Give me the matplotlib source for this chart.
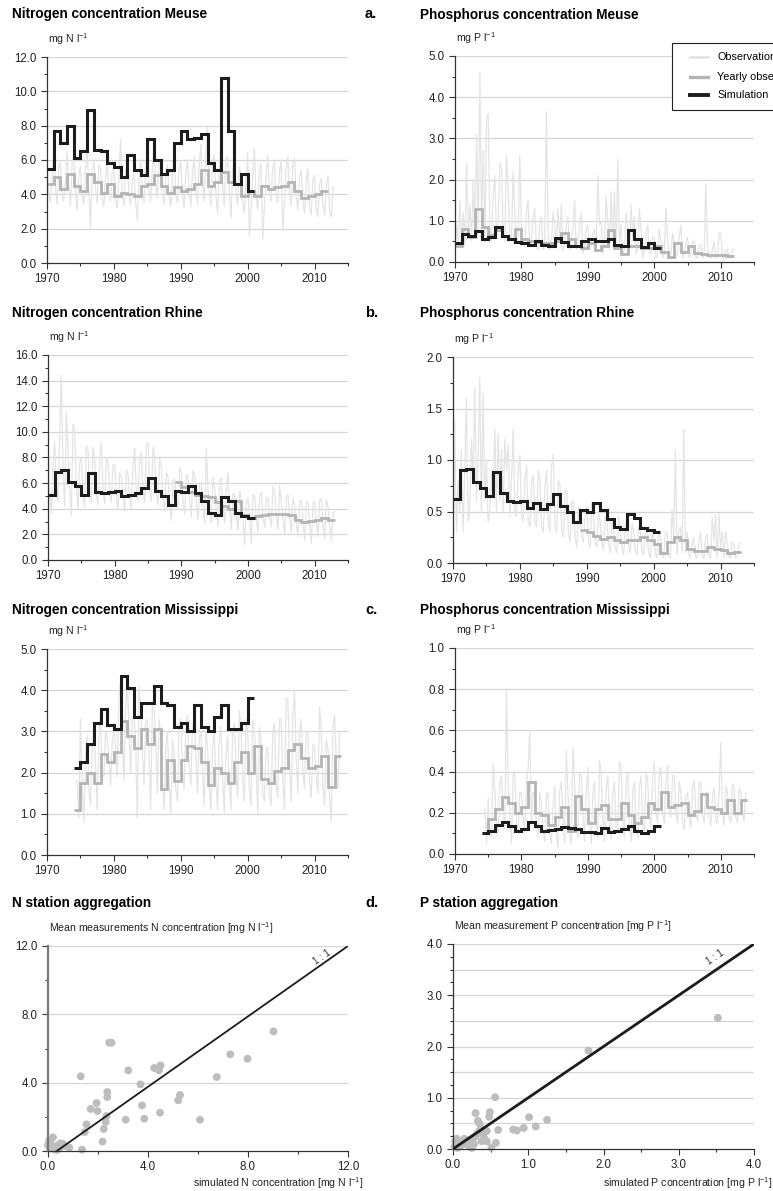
import numpy as np
import matplotlib
matplotlib.use("Agg")
import matplotlib.pyplot as plt
from matplotlib.lines import Line2D
from matplotlib.patches import Rectangle
from matplotlib.ticker import MultipleLocator, FormatStrFormatter

plt.rcParams["font.family"] = ["Liberation Sans", "DejaVu Sans"]
plt.rcParams["mathtext.default"] = "regular"

W, H = 773, 1191

OBS_C = "#e4e4e4"
YEAR_C = "#b4b4b4"
SIM_C = "#1c1c1c"
GRID_C = "#d6d6d6"
SPINE_C = "#333333"

# ---------------- Meuse ----------------
meuse_n_sim_start = 1970
meuse_n_sim = [5.5, 7.7, 7.0, 8.0, 6.1, 6.5, 8.9, 6.6, 6.5, 5.8, 5.6, 5.0, 6.3, 5.4, 5.1, 7.2,
               6.0, 5.2, 5.4, 7.0, 7.7, 7.2, 7.3, 7.5, 5.8, 5.4, 10.8, 7.7, 4.6, 5.2, 4.2]
meuse_n_year_start = 1970
meuse_n_year = [4.6, 5.0, 4.3, 5.2, 4.5, 4.2, 5.2, 4.7, 4.1, 4.6, 3.9, 4.1, 4.0, 3.9, 4.5, 4.6,
                5.1, 4.5, 4.1, 4.4, 4.2, 4.3, 4.6, 5.4, 4.5, 4.7, 5.3, 4.7, 4.6, 3.9, 4.2, 3.9,
                4.5, 4.3, 4.4, 4.5, 4.7, 4.2, 3.8, 3.9, 4.0, 4.2]
meuse_n_obs_start = 1970
meuse_n_obs = [5.8, 4.2, 3.5, 5.0, 6.4, 4.5, 3.4, 5.6, 5.9, 4.0, 3.6, 4.8, 6.5, 4.6, 3.3, 5.9,
               6.2, 4.1, 3.1, 5.2, 5.6, 3.9, 3.4, 5.5, 6.6, 4.3, 2.0, 5.1, 6.0, 4.4, 3.5, 5.7,
               5.5, 3.8, 3.3, 4.9, 6.1, 4.2, 3.6, 5.3, 5.4, 3.7, 3.2, 5.0, 7.2, 4.0, 3.3, 5.4,
               5.8, 3.9, 3.4, 4.8, 5.2, 3.6, 2.5, 4.7, 6.0, 4.1, 3.5, 5.6, 6.4, 4.3, 3.6, 5.5,
               6.8, 4.6, 3.8, 5.9, 6.1, 4.2, 3.4, 5.2, 5.7, 3.9, 3.3, 5.0, 6.3, 4.0, 3.5, 5.4,
               5.9, 4.1, 3.2, 5.2, 6.0, 4.2, 3.3, 5.3, 6.2, 4.3, 3.4, 5.7, 6.9, 4.8, 3.6, 6.4,
               7.9, 4.4, 3.3, 5.9, 6.3, 4.0, 2.9, 5.5, 7.0, 4.6, 3.3, 6.1, 6.2, 4.3, 2.6, 5.4,
               6.0, 4.2, 3.4, 5.6, 5.2, 3.6, 2.9, 4.8, 6.4, 1.6, 3.0, 5.0, 6.7, 3.9, 3.1, 5.4,
               5.8, 1.4, 3.3, 5.1, 6.3, 4.2, 3.6, 5.6, 5.9, 4.0, 3.5, 5.3, 6.0, 1.9, 3.4, 5.5,
               6.2, 4.3, 3.3, 5.8, 6.1, 3.9, 3.1, 5.0, 5.4, 3.6, 2.9, 4.7, 5.5, 3.3, 2.8, 4.9,
               5.1, 3.2, 2.7, 4.6, 4.9, 3.4, 2.8, 4.5, 5.1, 3.0, 2.7, 4.4, 4.4]

meuse_p_sim_start = 1970
meuse_p_sim = [0.45, 0.68, 0.62, 0.75, 0.55, 0.6, 0.85, 0.62, 0.55, 0.48, 0.45, 0.42, 0.5, 0.42,
               0.38, 0.58, 0.48, 0.4, 0.38, 0.5, 0.55, 0.52, 0.52, 0.55, 0.42, 0.38, 0.78, 0.55,
               0.37, 0.45, 0.35]
meuse_p_year_start = 1970
meuse_p_year = [0.38, 0.8, 0.6, 1.28, 0.85, 0.65, 0.78, 0.62, 0.55, 0.8, 0.55, 0.5, 0.48, 0.45,
                0.45, 0.5, 0.7, 0.55, 0.4, 0.35, 0.45, 0.3, 0.38, 0.78, 0.35, 0.2, 0.4, 0.38,
                0.35, 0.35, 0.4, 0.25, 0.12, 0.45, 0.25, 0.4, 0.22, 0.2, 0.16, 0.17, 0.18, 0.15]
meuse_p_obs_start = 1970
meuse_p_obs = [0.3, 0.9, 0.4, 1.5, 0.5, 1.2, 0.4, 2.4, 0.6, 1.4, 0.5, 2.0, 0.7, 3.1, 0.6, 4.6,
               0.8, 2.7, 0.5, 3.5, 3.6, 0.9, 0.5, 1.6, 2.1, 0.6, 1.0, 2.4, 2.3, 0.7, 0.5, 2.6,
               1.8, 0.6, 0.5, 2.2, 1.2, 0.5, 0.6, 2.6, 0.9, 0.4, 0.5, 1.2, 1.5, 0.4, 0.5, 1.0,
               1.3, 0.4, 0.3, 0.9, 1.1, 0.3, 0.4, 3.65, 0.8, 0.3, 0.4, 1.2, 0.9, 0.4, 1.3, 0.5,
               1.4, 0.3, 0.4, 0.9, 1.1, 0.3, 0.6, 0.8, 1.5, 0.3, 0.4, 0.9, 1.2, 0.2, 0.4, 0.8,
               0.9, 0.3, 0.4, 0.7, 0.8, 0.3, 2.1, 0.9, 1.0, 0.2, 0.4, 1.6, 1.0, 0.3, 1.7, 0.5,
               1.7, 0.3, 2.5, 0.4, 0.9, 0.2, 0.3, 1.2, 0.8, 0.2, 1.4, 0.6, 1.1, 0.2, 0.3, 1.3,
               0.8, 0.1, 0.3, 0.7, 0.9, 0.2, 0.2, 0.6, 0.6, 0.1, 0.2, 0.8, 0.5, 0.1, 0.2, 1.3,
               0.6, 0.1, 0.2, 0.7, 0.5, 0.1, 0.2, 0.6, 0.9, 0.1, 0.2, 0.5, 0.6, 0.1, 0.2, 0.5,
               0.5, 0.1, 0.1, 0.4, 0.4, 0.1, 0.2, 1.9, 0.4, 0.1, 0.1, 0.3, 0.5, 0.1, 0.1, 0.7,
               0.7, 0.1, 0.1, 0.3, 0.3, 0.1, 0.1, 0.3, 0.3]

# ---------------- Rhine ----------------
rhine_n_sim_start = 1970
rhine_n_sim = [5.1, 6.9, 7.0, 6.1, 5.8, 5.1, 6.8, 5.3, 5.2, 5.3, 5.35, 5.0, 5.1, 5.2, 5.6, 6.4,
               5.4, 5.0, 4.3, 5.4, 5.3, 5.8, 5.2, 4.6, 3.7, 3.5, 4.9, 4.6, 3.7, 3.4, 3.3]
rhine_n_year_start = 1989
rhine_n_year = [6.1, 5.7, 5.3, 5.1, 5.0, 4.9, 4.5, 4.2, 4.0, 4.6, 3.5, 3.3, 3.4, 3.5, 3.6, 3.6,
                3.6, 3.5, 3.1, 3.0, 3.05, 3.1, 3.3, 3.1]
rhine_n_obs_start = 1970
rhine_n_obs = [9.5, 5.2, 3.6, 7.5, 9.2, 6.0, 4.5, 9.8, 14.4, 7.0, 4.2, 11.6, 8.5, 5.5, 3.5, 10.6,
               10.2, 5.8, 4.0, 7.6, 8.0, 5.0, 4.1, 8.9, 8.6, 5.4, 4.5, 8.8, 8.0, 5.1, 4.3, 7.6,
               9.2, 5.6, 4.4, 8.0, 7.8, 5.2, 4.5, 7.4, 7.5, 5.0, 3.9, 6.8, 6.5, 4.8, 3.8, 7.0,
               6.7, 4.9, 4.0, 7.1, 8.7, 5.3, 4.6, 7.8, 8.4, 5.5, 4.5, 9.0, 9.2, 5.6, 4.6, 8.8,
               8.1, 5.2, 4.3, 7.9, 7.3, 4.8, 3.8, 6.9, 6.5, 4.4, 3.1, 6.2, 6.3, 4.7, 3.9, 7.2,
               6.9, 4.6, 3.6, 6.7, 6.5, 4.8, 3.4, 7.0, 6.6, 4.5, 3.2, 6.0, 5.9, 4.1, 2.8, 8.7,
               5.5, 3.9, 2.9, 6.5, 5.6, 3.8, 2.6, 6.2, 6.4, 4.1, 2.9, 5.6, 6.8, 3.9, 2.4, 5.2,
               5.1, 3.5, 2.3, 5.4, 4.6, 3.2, 1.2, 4.4, 4.9, 3.0, 1.3, 5.1, 5.0, 3.2, 2.2, 4.9,
               5.3, 3.4, 2.5, 4.7, 4.9, 3.3, 2.6, 5.8, 5.3, 3.4, 2.4, 5.8, 4.5, 3.2, 2.0, 5.0,
               5.1, 3.3, 2.1, 4.8, 4.3, 2.9, 1.8, 4.5, 4.7, 3.0, 1.5, 4.6, 4.5, 2.8, 1.3, 4.4,
               4.6, 2.9, 1.8, 4.7, 4.8, 2.8, 1.6, 4.7, 4.2, 2.6, 1.5, 3.7, 3.8]

rhine_p_sim_start = 1970
rhine_p_sim = [0.62, 0.9, 0.91, 0.79, 0.73, 0.65, 0.88, 0.68, 0.6, 0.59, 0.6, 0.53, 0.58, 0.52,
               0.57, 0.67, 0.55, 0.5, 0.4, 0.51, 0.5, 0.58, 0.51, 0.43, 0.35, 0.33, 0.48, 0.44,
               0.34, 0.32, 0.3]
rhine_p_year_start = 1989
rhine_p_year = [0.32, 0.3, 0.26, 0.23, 0.25, 0.22, 0.2, 0.22, 0.22, 0.25, 0.22, 0.18, 0.1, 0.2,
                0.25, 0.22, 0.14, 0.12, 0.12, 0.16, 0.14, 0.13, 0.1, 0.11]
rhine_p_obs_start = 1970
rhine_p_obs = [0.2, 1.4, 0.3, 0.8, 0.5, 1.1, 0.3, 0.9, 1.6, 0.4, 0.5, 1.2, 0.8, 1.7, 0.6, 1.0,
               1.8, 0.5, 1.65, 0.6, 1.0, 0.4, 0.5, 0.9, 0.7, 1.3, 0.5, 1.25, 0.6, 1.1, 0.5, 1.2,
               0.9, 1.15, 0.45, 0.8, 1.3, 0.5, 0.45, 0.9, 1.05, 0.45, 0.4, 0.8, 0.95, 0.4, 0.35, 0.8,
               0.85, 0.4, 0.35, 0.9, 0.8, 0.35, 0.3, 0.75, 0.9, 0.4, 0.3, 0.95, 1.05, 0.35, 0.3, 0.8,
               0.75, 0.3, 0.25, 0.7, 0.7, 0.3, 0.2, 0.6, 0.6, 0.25, 0.15, 0.55, 0.5, 0.25, 0.2, 0.5,
               0.55, 0.2, 0.15, 0.6, 0.45, 0.2, 0.15, 0.5, 0.4, 0.2, 0.12, 0.45, 0.45, 0.18, 0.1, 0.4,
               0.35, 0.15, 0.1, 0.45, 0.3, 0.15, 0.08, 0.35, 0.4, 0.15, 0.1, 0.38, 0.3, 0.12, 0.08, 0.35,
               0.32, 0.12, 0.08, 0.3, 0.3, 0.1, 0.05, 0.3, 0.25, 0.1, 0.05, 0.28, 0.25, 0.08, 0.05, 0.3,
               0.3, 0.1, 0.05, 0.52, 0.25, 1.1, 0.08, 0.3, 0.35, 0.1, 1.3, 0.1, 0.3, 0.08, 0.05, 0.2,
               0.25, 0.06, 0.05, 0.2, 0.3, 0.08, 0.04, 0.25, 0.28, 0.07, 0.05, 0.45, 0.2, 0.47, 0.05, 0.48,
               0.15, 0.3, 0.05, 0.3, 0.2, 0.06, 0.05, 0.2, 0.18, 0.05, 0.06, 0.18, 0.2]

# ---------------- Mississippi ----------------
miss_n_sim_start = 1974
miss_n_sim = [2.1, 2.25, 2.7, 3.2, 3.55, 3.15, 3.05, 4.35, 4.05, 3.35, 3.7, 3.7, 4.1, 3.7, 3.65,
              3.1, 3.2, 3.0, 3.65, 3.1, 3.0, 3.35, 3.65, 3.05, 3.05, 3.2, 3.8]
miss_n_year_start = 1974
miss_n_year = [1.1, 1.75, 2.0, 1.75, 2.45, 2.25, 2.5, 3.25, 2.9, 2.6, 3.05, 2.7, 3.05, 1.6, 2.3,
               1.8, 2.3, 2.65, 2.6, 2.25, 1.7, 2.1, 2.0, 1.75, 2.25, 2.5, 2.0, 2.65, 1.85, 1.75,
               2.05, 2.1, 2.55, 2.7, 2.35, 2.1, 2.15, 2.4, 1.65, 2.4]
miss_n_obs_start = 1974.5
miss_n_obs = [1.8, 0.9, 3.3, 1.7, 0.8, 2.4, 2.9, 1.6, 1.2, 2.6, 3.1, 2.2, 1.1, 2.8, 3.5, 2.0,
              1.9, 3.0, 2.8, 2.4, 1.7, 2.7, 3.2, 2.6, 1.9, 3.9, 4.2, 3.0, 1.8, 3.6, 4.2, 3.1,
              2.0, 3.3, 3.4, 2.7, 0.9, 4.1, 3.5, 2.5, 1.7, 3.2, 3.3, 2.6, 1.1, 3.6, 3.6, 2.8,
              1.5, 3.3, 2.9, 1.8, 1.1, 2.6, 3.0, 1.8, 1.0, 2.8, 2.5, 1.6, 1.3, 3.2, 3.3, 2.1,
              1.6, 3.0, 3.4, 2.2, 1.7, 3.1, 3.3, 2.4, 1.5, 2.8, 3.0, 2.0, 1.2, 3.0, 2.6, 1.6,
              1.1, 2.6, 3.0, 1.8, 1.1, 2.8, 3.1, 1.9, 1.0, 2.4, 2.9, 1.7, 1.1, 3.0, 3.2, 2.1,
              1.4, 3.5, 3.1, 1.9, 1.3, 3.3, 3.0, 1.6, 1.2, 3.3, 3.0, 2.3, 1.0, 3.1, 2.8, 1.5,
              1.3, 2.6, 2.6, 1.5, 1.2, 3.0, 3.2, 1.7, 1.4, 3.3, 3.3, 1.8, 1.1, 3.8, 3.8, 2.2,
              1.3, 3.3, 4.0, 2.4, 1.5, 3.0, 3.3, 2.0, 1.6, 3.0, 3.0, 1.8, 1.4, 2.7, 2.6, 1.9,
              1.5, 3.6, 3.0, 1.7, 1.2, 2.8, 2.6, 1.4, 0.8, 3.1, 3.4, 2.2, 1.6, 3.0]

miss_p_sim_start = 1974
miss_p_sim = [0.1, 0.11, 0.14, 0.155, 0.135, 0.11, 0.12, 0.155, 0.135, 0.11, 0.115, 0.12, 0.13,
              0.125, 0.12, 0.105, 0.105, 0.1, 0.125, 0.105, 0.11, 0.12, 0.135, 0.11, 0.1, 0.11,
              0.135]
miss_p_year_start = 1974
miss_p_year = [0.1, 0.17, 0.22, 0.275, 0.25, 0.2, 0.23, 0.35, 0.2, 0.19, 0.14, 0.18, 0.23, 0.11,
               0.28, 0.22, 0.15, 0.22, 0.24, 0.17, 0.17, 0.25, 0.19, 0.15, 0.18, 0.25, 0.22, 0.3,
               0.23, 0.24, 0.25, 0.19, 0.21, 0.29, 0.23, 0.22, 0.2, 0.26, 0.2, 0.26]
miss_p_obs_start = 1974.5
miss_p_obs = [0.22, 0.05, 0.27, 0.1, 0.08, 0.44, 0.3, 0.15, 0.1, 0.35, 0.38, 0.2, 0.12, 0.8,
              0.35, 0.2, 0.05, 0.38, 0.4, 0.15, 0.1, 0.3, 0.3, 0.18, 0.1, 0.35, 0.42, 0.6, 0.15, 0.3,
              0.28, 0.15, 0.08, 0.3, 0.25, 0.12, 0.06, 0.28, 0.3, 0.1, 0.05, 0.22, 0.33, 0.1, 0.03, 0.3,
              0.35, 0.2, 0.05, 0.5, 0.3, 0.1, 0.05, 0.52, 0.35, 0.15, 0.08, 0.4, 0.38, 0.2, 0.06, 0.3,
              0.42, 0.12, 0.05, 0.3, 0.35, 0.15, 0.08, 0.45, 0.4, 0.18, 0.06, 0.32, 0.38, 0.15, 0.07, 0.3,
              0.35, 0.12, 0.1, 0.45, 0.42, 0.2, 0.08, 0.35, 0.4, 0.15, 0.06, 0.3, 0.35, 0.12, 0.08, 0.32,
              0.38, 0.15, 0.1, 0.4, 0.35, 0.18, 0.12, 0.38, 0.45, 0.2, 0.15, 0.4, 0.42, 0.2, 0.15, 0.35,
              0.43, 0.2, 0.18, 0.38, 0.38, 0.2, 0.15, 0.35, 0.3, 0.15, 0.12, 0.28, 0.3, 0.17, 0.13, 0.32,
              0.36, 0.2, 0.16, 0.35, 0.34, 0.19, 0.15, 0.3, 0.3, 0.18, 0.14, 0.28, 0.32, 0.16, 0.15, 0.3,
              0.54, 0.2, 0.14, 0.33, 0.3, 0.18, 0.15, 0.34, 0.32, 0.18, 0.15, 0.32, 0.3, 0.2, 0.16, 0.3]

# ---------------- station aggregation ----------------
n_station_sim = [9.02, 7.29, 7.98, 6.75, 6.08, 5.21, 5.28, 4.48, 4.5, 4.44, 4.25, 3.85, 3.76, 3.7,
                 3.21, 3.11, 2.54, 2.45, 2.37, 2.37, 2.34, 2.31, 2.23, 2.18, 1.98, 1.94, 1.71, 1.54,
                 1.47, 1.31, 1.36, 0.0, 0.1, 0.2, 0.15, 0.3, 0.4, 0.5, 0.55, 0.6, 0.25, 0.85, 0.05,
                 0.45, 0.35, 0.7, 0.08]
n_station_obs = [7.0, 5.66, 5.4, 4.33, 1.83, 2.97, 3.28, 2.24, 5.01, 4.72, 4.86, 1.89, 2.67, 3.9,
                 4.72, 1.83, 6.34, 6.34, 3.45, 3.16, 2.05, 1.7, 1.29, 0.55, 2.34, 2.81, 2.46, 1.56,
                 1.11, 4.37, 0.08, 0.35, 0.5, 0.8, 0.25, 0.2, 0.35, 0.45, 0.3, 0.4, 0.1, 0.2, 0.6,
                 0.15, 0.05, 0.3, 0.15]
n_one_to_one_x = [0.35, 12.0]
n_one_to_one_y = [0.0, 12.0]

p_station_sim = [3.52, 1.8, 1.25, 1.1, 1.01, 0.94, 0.85, 0.8, 0.6, 0.56, 0.57, 0.51, 0.49, 0.48,
                 0.45, 0.45, 0.35, 0.33, 0.3, 0.4, 0.38, 0.42, 0.3, 0.25, 0.28, 0.2, 0.22, 0.18,
                 0.15, 0.12, 0.1, 0.05, 0.03, 0.02, 0.06, 0.25, 0.35, 0.38, 0.05, 0.15, 0.32, 0.27]
p_station_obs = [2.56, 1.92, 0.57, 0.44, 0.62, 0.41, 0.36, 0.38, 0.37, 1.01, 0.12, 0.03, 0.72,
                 0.63, 0.35, 0.15, 0.5, 0.55, 0.7, 0.28, 0.15, 0.2, 0.25, 0.2, 0.1, 0.15, 0.05,
                 0.18, 0.1, 0.08, 0.12, 0.2, 0.15, 0.05, 0.02, 0.02, 0.35, 0.4, 0.1, 0.2, 0.3, 0.22]
p_one_to_one_x = [0.0, 4.0]
p_one_to_one_y = [0.0, 4.0]

legend_labels = ["Observations", "Yearly observations", "Simulation"]


fig = plt.figure(figsize=(W / 100, H / 100), dpi=100)


def fx(px):
    return px / W


def fy(py):
    return 1 - py / H


def add_axes(left, top, right, bottom):
    return fig.add_axes([fx(left), fy(bottom), (right - left) / W, (bottom - top) / H])


def style_axes(ax, ymax, ymajor, yminor, grid_step=None):
    for side in ("top", "right"):
        ax.spines[side].set_visible(False)
    for side in ("left", "bottom"):
        ax.spines[side].set_color(SPINE_C)
        ax.spines[side].set_linewidth(0.9)
    ax.set_ylim(0, ymax)
    ax.yaxis.set_major_locator(MultipleLocator(ymajor))
    ax.yaxis.set_minor_locator(MultipleLocator(yminor))
    ax.yaxis.set_major_formatter(FormatStrFormatter("%.1f"))
    ax.tick_params(which="both", direction="out", width=0.8, colors=SPINE_C,
                   labelsize=8.3, labelcolor="#222222")
    ax.tick_params(which="major", length=4)
    ax.tick_params(which="minor", length=2.5)
    step = grid_step or ymajor
    for g in np.arange(step, ymax + step / 2, step):
        ax.axhline(g, color=GRID_C, lw=0.9, zorder=0)


def top_label(ax, text):
    ax.annotate(text, xy=(0, 1), xycoords="axes fraction", xytext=(1, 7),
                textcoords="offset points", ha="left", va="bottom", fontsize=7.6,
                color="#222222")


def time_panel(box, obs_start, obs, year_start, year, sim_start, sim, ymax, ymajor, yminor, unit):
    ax = add_axes(*box)
    style_axes(ax, ymax, ymajor, yminor)
    ax.set_xlim(1970, 2015)
    ax.xaxis.set_major_locator(MultipleLocator(10))
    ax.xaxis.set_minor_locator(MultipleLocator(5))
    ax.plot(obs_start + np.arange(len(obs)) / 4, obs, color=OBS_C, lw=0.9, zorder=1)
    ax.stairs(year, year_start + np.arange(len(year) + 1), baseline=None,
              color=YEAR_C, lw=2.0, zorder=2)
    ax.stairs(sim, sim_start + np.arange(len(sim) + 1), baseline=None,
              color=SIM_C, lw=2.2, zorder=3)
    top_label(ax, unit)
    return ax


def title(x, y, text, letter=None, letter_x=None):
    fig.text(fx(x), fy(y), text, fontsize=9.8, fontweight="bold", va="center", ha="left")
    if letter:
        fig.text(fx(letter_x), fy(y), letter, fontsize=10.5, fontweight="bold",
                 va="center", ha="left")


unit_n = "mg N l$^{-1}$"
unit_p = "mg P l$^{-1}$"

# row 1 - Meuse
title(12, 14, "Nitrogen concentration Meuse", "a.", 365)
title(420, 15, "Phosphorus concentration Meuse")
time_panel((47, 57, 348, 263), meuse_n_obs_start, meuse_n_obs, meuse_n_year_start, meuse_n_year,
           meuse_n_sim_start, meuse_n_sim, 12, 2, 1, unit_n)
time_panel((455, 56, 754, 262), meuse_p_obs_start, meuse_p_obs, meuse_p_year_start,
           meuse_p_year, meuse_p_sim_start, meuse_p_sim, 5, 1, 0.5, unit_p)

# legend box, drawn by hand so that it runs off the right edge like the original
fig.add_artist(Rectangle((fx(672), fy(110)), (820 - 672) / W, (110 - 43) / H,
                         transform=fig.transFigure, facecolor="white", edgecolor="#222222",
                         lw=0.8, zorder=10))
for row_y, color, lw, label in zip([57, 77, 95], [OBS_C, YEAR_C, SIM_C], [2.0, 2.4, 2.8],
                                   legend_labels):
    fig.add_artist(Line2D([fx(690), fx(708)], [fy(row_y), fy(row_y)],
                          transform=fig.transFigure, color=color, lw=lw, zorder=11))
    fig.text(fx(717), fy(row_y), label, fontsize=7.8, va="center", ha="left", zorder=11)

# row 2 - Rhine
title(12, 313, "Nitrogen concentration Rhine", "b.", 365)
title(420, 313, "Phosphorus concentration Rhine")
time_panel((48, 355, 348, 560), rhine_n_obs_start, rhine_n_obs, rhine_n_year_start, rhine_n_year,
           rhine_n_sim_start, rhine_n_sim, 16, 2, 1, unit_n)
time_panel((453, 357, 754, 563), rhine_p_obs_start, rhine_p_obs, rhine_p_year_start, rhine_p_year,
           rhine_p_sim_start, rhine_p_sim, 2, 0.5, 0.25, unit_p)

# row 3 - Mississippi
title(12, 610, "Nitrogen concentration Mississippi", "c.", 365)
title(420, 610, "Phosphorus concentration Mississippi")
time_panel((47, 649, 348, 855), miss_n_obs_start, miss_n_obs, miss_n_year_start, miss_n_year,
           miss_n_sim_start, miss_n_sim, 5, 1, 0.5, unit_n)
time_panel((455, 648, 754, 854), miss_p_obs_start, miss_p_obs, miss_p_year_start, miss_p_year,
           miss_p_sim_start, miss_p_sim, 1, 0.2, 0.1, unit_p)

# row 4 - station aggregation
title(12, 903, "N station aggregation", "d.", 365)
title(420, 903, "P station aggregation")

ax_n = add_axes(48, 946, 348, 1151)
style_axes(ax_n, 12, 4, 2)
ax_n.set_xlim(0, 12)
ax_n.xaxis.set_major_locator(MultipleLocator(4))
ax_n.xaxis.set_minor_locator(MultipleLocator(2))
ax_n.xaxis.set_major_formatter(FormatStrFormatter("%.1f"))
ax_n.spines["left"].set_color("#777777")
ax_n.spines["left"].set_linewidth(1.6)
ax_n.scatter(n_station_sim, n_station_obs, s=32, color="#bdbdbd", edgecolors="none",
             zorder=2, clip_on=False)
ax_n.plot(n_one_to_one_x, n_one_to_one_y, color=SIM_C, lw=1.3, zorder=3)
ax_n.text(10.95, 11.35, "1 : 1", rotation=35, fontsize=7, ha="center", va="center",
          color="#333333")
top_label(ax_n, "Mean measurements N concentration [mg N l$^{-1}$]")
fig.text(fx(363), fy(1183), "simulated N concentration [mg N l$^{-1}$]",
         fontsize=7.6, ha="right", va="center", color="#222222")

ax_p = add_axes(453, 944, 754, 1149)
style_axes(ax_p, 4, 1, 0.25, grid_step=0.5)
ax_p.set_xlim(0, 4)
ax_p.xaxis.set_major_locator(MultipleLocator(1))
ax_p.xaxis.set_minor_locator(MultipleLocator(0.5))
ax_p.xaxis.set_major_formatter(FormatStrFormatter("%.1f"))
ax_p.scatter(p_station_sim, p_station_obs, s=32, color="#bdbdbd", edgecolors="none",
             zorder=2, clip_on=False)
ax_p.plot(p_one_to_one_x, p_one_to_one_y, color=SIM_C, lw=2.0, zorder=3)
ax_p.text(3.48, 3.75, "1 : 1", rotation=34, fontsize=7, ha="center", va="center",
          color="#333333")
top_label(ax_p, "Mean measurement P concentration [mg P l$^{-1}$]")
fig.text(fx(772), fy(1183), "simulated P concentration [mg P l$^{-1}$]",
         fontsize=7.6, ha="right", va="center", color="#222222")

fig.savefig("out.png", dpi=100)
